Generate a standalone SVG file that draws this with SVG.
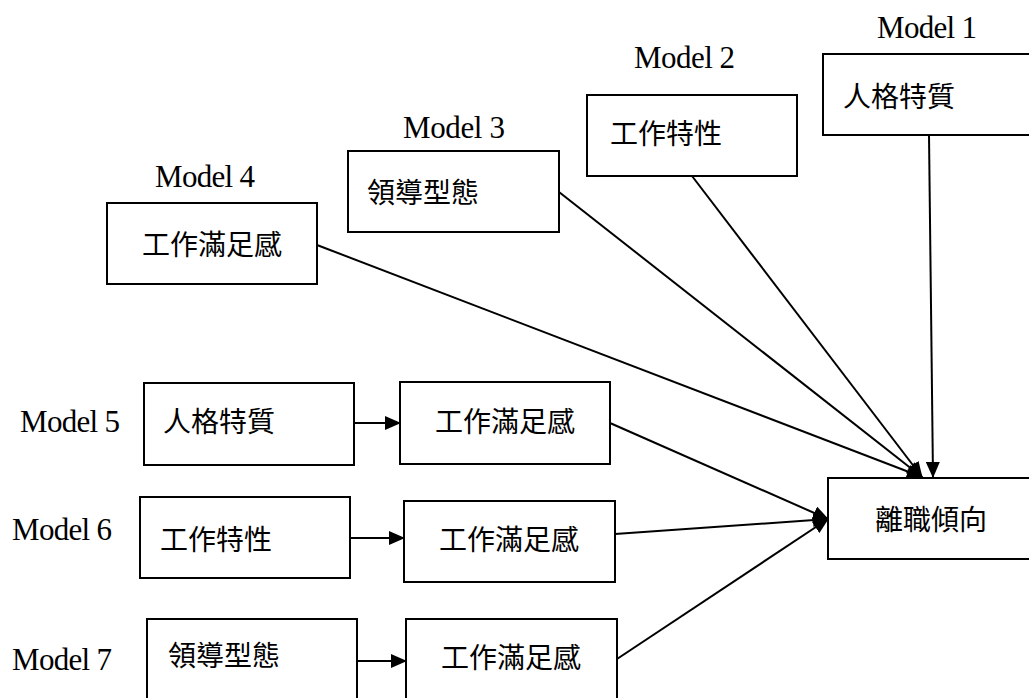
<svg xmlns="http://www.w3.org/2000/svg" width="1029" height="698" viewBox="0 0 1029 698">
<style>
.box{fill:#fff;stroke:#000;stroke-width:2}
.lbl{font-family:"Liberation Serif",serif;font-size:31px;fill:#000}
.cjk{font-family:"Noto Sans CJK TC","Noto Sans CJK SC",sans-serif;font-size:28px;fill:#000;dominant-baseline:central}
.ln{stroke:#000;stroke-width:2;fill:none;marker-end:url(#ah)}
</style>
<defs>
<marker id="ah" markerUnits="userSpaceOnUse" markerWidth="16" markerHeight="14" refX="15" refY="7" orient="auto">
<path d="M0,0 L16,7 L0,14 z" fill="#000"/>
</marker>
</defs>
<rect width="1029" height="698" fill="#fff"/>

<g id="n1"><text class="lbl" x="877" y="38" textLength="100" lengthAdjust="spacing">Model 1</text><rect class="box" x="823" y="54" width="220" height="81"/><text class="cjk" x="843" y="95">人格特質</text></g>
<g id="n2"><text class="lbl" x="634" y="68" textLength="101" lengthAdjust="spacing">Model 2</text><rect class="box" x="587" y="95" width="210" height="81"/><text class="cjk" x="610" y="132">工作特性</text></g>
<g id="n3"><text class="lbl" x="403" y="138" textLength="102" lengthAdjust="spacing">Model 3</text><rect class="box" x="348" y="151" width="211" height="81"/><text class="cjk" x="367" y="191">領導型態</text></g>
<g id="n4"><text class="lbl" x="155" y="187" textLength="100" lengthAdjust="spacing">Model 4</text><rect class="box" x="107" y="203" width="210" height="81"/><text class="cjk" x="142" y="243">工作滿足感</text></g>

<g id="n5"><text class="lbl" x="20" y="432" textLength="100" lengthAdjust="spacing">Model 5</text><rect class="box" x="144" y="383" width="210" height="82"/><text class="cjk" x="163" y="420">人格特質</text></g>
<g id="n5b"><rect class="box" x="400" y="382" width="210" height="82"/><text class="cjk" x="435" y="420">工作滿足感</text></g>
<g id="n6"><text class="lbl" x="12" y="540" textLength="100" lengthAdjust="spacing">Model 6</text><rect class="box" x="140" y="497" width="210" height="81"/><text class="cjk" x="160" y="538">工作特性</text></g>
<g id="n6b"><rect class="box" x="404" y="501" width="211" height="81"/><text class="cjk" x="439" y="538">工作滿足感</text></g>
<g id="n7"><text class="lbl" x="12" y="670" textLength="100" lengthAdjust="spacing">Model 7</text><rect class="box" x="147" y="619" width="210" height="90"/><text class="cjk" x="168" y="654">領導型態</text></g>
<g id="n7b"><rect class="box" x="406" y="619" width="211" height="90"/><text class="cjk" x="441" y="656">工作滿足感</text></g>

<g id="target"><rect class="box" x="828" y="478" width="215" height="81"/><text class="cjk" x="875" y="518">離職傾向</text></g>

<g id="connectors">
<line class="ln" x1="929" y1="135" x2="933" y2="477"/>
<line class="ln" x1="692" y1="176" x2="922" y2="477"/>
<line class="ln" x1="559" y1="192" x2="922" y2="477"/>
<line class="ln" x1="317" y1="245" x2="922" y2="477"/>
<line class="ln" x1="354" y1="423" x2="400" y2="423"/>
<line class="ln" x1="350" y1="538" x2="404" y2="538"/>
<line class="ln" x1="357" y1="661" x2="406" y2="661"/>
<line class="ln" x1="610" y1="423" x2="828" y2="519"/>
<line class="ln" x1="615" y1="534" x2="828" y2="519"/>
<line class="ln" x1="617" y1="659" x2="828" y2="519"/>
</g>
</svg>
